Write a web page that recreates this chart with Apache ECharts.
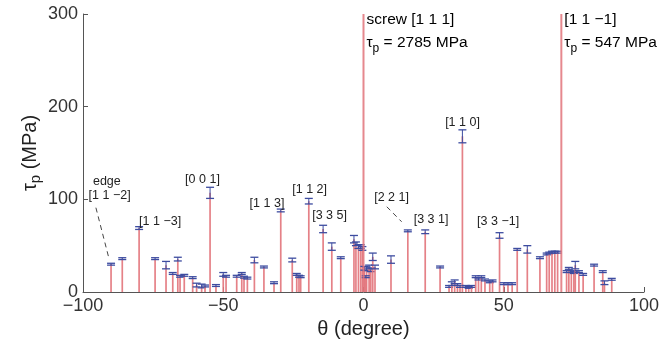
<!DOCTYPE html>
<html>
<head>
<meta charset="utf-8">
<script src="https://cdn.jsdelivr.net/npm/echarts@6/dist/echarts.min.js"></script>
<style>
  html, body { margin: 0; padding: 0; background: #fff; }
  #chart { width: 665px; height: 347px; }
</style>
</head>
<body>
<div id="chart"></div>
<script>
// stem positions (deg), Peierls stress (MPa) and error half-widths
const theta = [-90, -86, -80, -74.3, -70.4, -68, -66.2, -65.4, -63.9, -60.9, -59.5, -57.7, -56.5,
  -54.7, -52.6, -50, -49, -45.2, -43.4, -42.6, -41.4, -38.9, -35.5, -31.9, -29.5, -25.4, -23.8,
  -23, -22.4, -19.5, -14.4, -11.3, -8.1, -3.4, -2.7, -1.8, -1, -0.4, 0.3, 1.1, 2, 2.6, 3.3, 4.1,
  0.8, 9.8, 15.8, 22, 27.3, 30.5, 31.5, 32.5, 33.5, 34.4, 35.26, 36.5, 37.5, 38.5, 40, 41, 42,
  43.3, 45, 46, 48.5, 50, 51.5, 53, 54.8, 58.4, 62.9, 65.3, 66.2, 67.2, 68.2, 69.2, 72.4, 73.2,
  74.1, 75, 75.5, 76.8, 78.3, 82.2, 85.3, 85.9, 88.5];
const tau = [30, 36, 69, 36, 29, 20, 35.5, 17, 18, 15.5, 7.5, 6.5, 6.5,
  107, 7, 19, 17, 17, 20, 16, 15, 34.5, 27, 10, 88, 34.5, 19,
  17, 16.5, 98, 68, 49, 37, 57, 52, 49, 49, 47, 25.6, 25, 27, 24, 38, 27,
  16.5, 35, 66, 65, 27, 6, 9, 11, 8, 6, 168, 6, 5, 6, 16.5, 14, 16.5,
  13, 11, 12, 61, 9, 9, 9, 46, 46, 37, 41, 42, 43, 43, 43, 22, 25.5,
  22, 21, 29, 22, 19, 29, 22, 10, 13.7];
const err = [1, 1, 1.5, 1, 4, 1, 2, 1, 1, 1, 2, 2, 1,
  6, 1, 2, 1, 1, 1, 1, 1, 3, 1, 1, 1.5, 2, 1,
  1, 1, 3, 4, 4, 1, 4, 2, 2, 2, 2, 2, 2, 2, 2, 4, 2,
  1, 4, 1, 2, 1, 1, 2, 2, 1, 1, 7, 1, 1, 1, 1, 1, 1,
  1, 1, 1, 3, 1, 1, 1, 1, 4, 1, 1, 1, 1, 1, 1, 1, 1,
  1, 1, 4, 1, 1, 1, 1, 2, 1];

// the two stems that run off the top of the plot
const bigTheta = [0, 70.53];
const bigTau = [2785, 547];

// annotations: x, y in data units
const noteX = [-91.5, -98, -80, -57.4, -40.6, -19.2, -12.1, 10, 24.1, 35.3, 48];
const noteY = [118.7, 103.6, 76, 121, 95.7, 110.8, 82.3, 101.7, 77.7, 182.6, 75.5];
const noteText = ['edge', '[1 1 \u22122]', '[1 1 \u22123]', '[0 0 1]', '[1 1 3]', '[1 1 2]',
  '[3 3 5]', '[2 2 1]', '[3 3 1]', '[1 1 0]', '[3 3 \u22121]'];
const noteAlign = ['center', 'left', 'left', 'center', 'left', 'center', 'center', 'center',
  'center', 'center', 'center'];

// dashed leader lines: x1, y1, x2, y2
const leaders = [[-95.4, 91, -90.6, 34.5], [8.3, 92, 13.6, 75.8]];

const RED = '#e2737a';
const BLUE = '#3d4ca0';
const FONT = '"Liberation Sans", Arial, sans-serif';

const chart = echarts.init(document.getElementById('chart'));

function stem(params, api) {
  const x = api.value(0), v = api.value(1), e = api.value(2);
  const p0 = api.coord([x, 0]);
  const p1 = api.coord([x, v]);
  const children = [{
    type: 'line',
    shape: { x1: p0[0], y1: p0[1], x2: p1[0], y2: p1[1] },
    style: { stroke: RED, lineWidth: 1.7, opacity: 0.9 }
  }];
  if (e > 0) {
    const lo = api.coord([x, v - e]);
    const hi = api.coord([x, v + e]);
    const w = 4;
    children.push(
      { type: 'line', shape: { x1: lo[0], y1: lo[1], x2: hi[0], y2: hi[1] }, style: { stroke: BLUE, lineWidth: 1 } },
      { type: 'line', shape: { x1: lo[0] - w, y1: lo[1], x2: lo[0] + w, y2: lo[1] }, style: { stroke: BLUE, lineWidth: 1.3 } },
      { type: 'line', shape: { x1: hi[0] - w, y1: hi[1], x2: hi[0] + w, y2: hi[1] }, style: { stroke: BLUE, lineWidth: 1.3 } }
    );
  }
  return { type: 'group', children: children };
}

const richTau = {
  a: { fontSize: 15.5, fontFamily: FONT, color: '#222', lineHeight: 23, verticalAlign: 'middle' },
  s: { fontSize: 12, fontFamily: FONT, color: '#222', lineHeight: 23, verticalAlign: 'bottom' }
};

chart.setOption({
  animation: false,
  grid: { left: 83, right: 21, top: 14, bottom: 55 },
  xAxis: {
    type: 'value', min: -100, max: 100, interval: 50,
    name: '\u03b8 (degree)', nameLocation: 'middle', nameGap: 27,
    nameTextStyle: { fontSize: 20, fontFamily: FONT, color: '#222' },
    axisLine: { onZero: false, lineStyle: { color: '#555', width: 1 } },
    axisTick: { inside: true, length: 5, lineStyle: { color: '#555' } },
    axisLabel: { fontSize: 18, fontFamily: FONT, color: '#333', margin: 5,
      formatter: v => String(v).replace('-', '\u2212') },
    splitLine: { show: false }
  },
  yAxis: {
    type: 'value', min: 0, max: 300, interval: 100,
    name: '{a|\u03c4}{s|p}{a| (MPa)}', nameLocation: 'middle', nameGap: 40,
    nameMoveOverlap: false,
    nameTextStyle: {
      rich: {
        a: { fontSize: 20, fontFamily: FONT, color: '#222', lineHeight: 26, verticalAlign: 'middle' },
        s: { fontSize: 15, fontFamily: FONT, color: '#222', lineHeight: 26, verticalAlign: 'bottom' }
      }
    },
    axisLine: { show: true, onZero: false, lineStyle: { color: '#555', width: 1 } },
    axisTick: { show: true, inside: true, length: 5, lineStyle: { color: '#555' } },
    axisLabel: { fontSize: 18, fontFamily: FONT, color: '#333', margin: 5 },
    splitLine: { show: false }
  },
  series: [
    {
      type: 'custom', clip: true, renderItem: stem,
      data: theta.map((t, i) => [t, tau[i], err[i]])
    },
    {
      type: 'custom', clip: true,
      renderItem: function (params, api) {
        const p0 = api.coord([api.value(0), 0]);
        const p1 = api.coord([api.value(0), api.value(1)]);
        return { type: 'line', shape: { x1: p0[0], y1: p0[1], x2: p1[0], y2: p1[1] },
          style: { stroke: RED, lineWidth: 2, opacity: 0.85 } };
      },
      data: bigTheta.map((t, i) => [t, bigTau[i]])
    },
    {
      type: 'custom', clip: false,
      renderItem: function (params, api) {
        const p0 = api.coord([api.value(0), api.value(1)]);
        const p1 = api.coord([api.value(2), api.value(3)]);
        return { type: 'line', shape: { x1: p0[0], y1: p0[1], x2: p1[0], y2: p1[1] },
          style: { stroke: '#444', lineWidth: 1, lineDash: [5, 4] } };
      },
      data: leaders
    },
    {
      type: 'custom', clip: false,
      renderItem: function (params, api) {
        const i = params.dataIndex;
        const p = api.coord([api.value(0), api.value(1)]);
        return { type: 'text', x: p[0], y: p[1],
          style: { text: noteText[i], fill: '#222', font: '12.5px ' + FONT,
            align: noteAlign[i], verticalAlign: 'middle' } };
      },
      data: noteX.map((x, i) => [x, noteY[i]])
    },
    {
      type: 'custom', clip: false,
      renderItem: function (params, api) {
        const i = params.dataIndex;
        const p = api.coord([api.value(0), 293]);
        const head = i === 0 ? 'screw [1 1 1]' : '[1 1 \u22121]';
        return { type: 'text', x: p[0] + 3, y: p[1] - 12,
          style: { text: '{a|' + head + '}\n{a|\u03c4}{s|p}{a| = ' + bigTau[i] + ' MPa}',
            rich: richTau, align: 'left', verticalAlign: 'top' } };
      },
      data: bigTheta.map((t, i) => [t, bigTau[i]])
    }
  ]
});
</script>
</body>
</html>
